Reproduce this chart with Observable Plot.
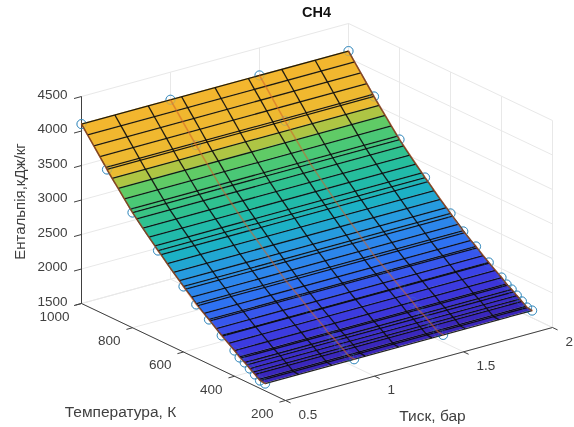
<!DOCTYPE html>
<html><head><meta charset="utf-8">
<style>html,body{margin:0;padding:0;background:#fff}svg{display:block;filter:blur(0.4px)}</style>
<script src="https://cdn.jsdelivr.net/npm/d3@7"></script>
<script src="https://cdn.jsdelivr.net/npm/@observablehq/plot@0.6"></script>
</head><body><script>
// measured points (circles + lines)
const measuredPressure = [0.5, 1, 1.5, 2];
const measuredTemp = [1000,900,800,700,600,550,500,450,400,380,360,340,320,300,280];
const measuredH = [4100,3618,3170,2795,2450,2277,2147,2003,1873,1807,1770,1717,1667,1614,1605];
// fitted surface rows and columns
const meshPressure = [0.5,0.6875,0.875,1.0625,1.25,1.4375,1.625,1.8125,2];
const meshTemp = [1000,976,952,928,904,900,880,856,832,808,800,784,760,736,712,700,688,664,640,616,600,592,568,550,544,520,500,496,472,450,448,424,400,380,376,360,352,340,328,320,304,300,280];
const meshH = [4100,3985,3870,3755,3640,3618,3525,3420,3310,3205,3170,3105,3015,2925,2840,2795,2755,2670,2585,2505,2450,2425,2350,2290,2270,2200,2147,2135,2065,2003,1998,1935,1873,1815,1805,1770,1750,1717,1688,1667,1625,1614,1605];
// axes
const pTicks = [0.5,1,1.5,2];
const tTicks = [1000,800,600,400,200];
const zTicks = [1500,2000,2500,3000,3500,4000,4500];
const P0=0.5,P1=2,T0=200,T1=1000,Z0=1500,Z1=4500;

// orthographic view of the 3-D box
const sx=(p,t,z)=>81+(p-P0)/(P1-P0)*267+(T1-t)/(T1-T0)*204;
const sy=(p,t,z)=>303-(p-P0)/(P1-P0)*73+(T1-t)/(T1-T0)*97-(z-Z0)/(Z1-Z0)*207;
const pt=(p,t,z)=>({x:sx(p,t,z),y:sy(p,t,z)});
const seg=(a,b)=>({x1:sx(...a),y1:sy(...a),x2:sx(...b),y2:sy(...b)});

const grid=[];
for(const z of zTicks){grid.push(seg([P0,T1,z],[P1,T1,z]),seg([P1,T1,z],[P1,T0,z]));}
for(const p of pTicks){grid.push(seg([p,T1,Z0],[p,T1,Z1]),seg([p,T1,Z0],[p,T0,Z0]));}
for(const t of tTicks){grid.push(seg([P1,t,Z0],[P1,t,Z1]),seg([P0,t,Z0],[P1,t,Z0]));}

const axes=[seg([P0,T1,Z0],[P0,T1,Z1]),seg([P0,T1,Z0],[P0,T0,Z0]),seg([P0,T0,Z0],[P1,T0,Z0])];
const ticks=[
 ...zTicks.map(z=>seg([P0,T1,z],[P0-0.042,T1,z])),
 ...tTicks.map(t=>seg([P0,t,Z0],[P0-0.034,t,Z0])),
 ...pTicks.map(p=>seg([p,T0,Z0],[p,T0-20,Z0]))
];

const cells=[];
meshTemp.slice(0,-1).forEach((t,i)=>{
 meshPressure.slice(0,-1).forEach((p,j)=>{
  const q=meshPressure[j+1],t2=meshTemp[i+1],z=meshH[i],z2=meshH[i+1],id=i+"-"+j;
  cells.push({id,v:z2,...seg([p,t,z],[p,t2,z2])});
  cells.push({id,v:z2,...seg([q,t,z],[q,t2,z2])});
 });
});
const mesh=[];
meshTemp.forEach((t,i)=>mesh.push(seg([P0,t,meshH[i]],[P1,t,meshH[i]])));
meshPressure.forEach(p=>meshTemp.slice(0,-1).forEach((t,i)=>mesh.push(seg([p,t,meshH[i]],[p,meshTemp[i+1],meshH[i+1]]))));

const points=measuredPressure.flatMap(p=>measuredTemp.map((t,i)=>({p,...pt(p,t,measuredH[i])})));

const zLab=zTicks.map(z=>({...pt(P0,T1,z),s:String(z)}));
const tLab=tTicks.map(t=>({...pt(P0,t,Z0),s:String(t)}));
const pLab=pTicks.map(p=>({...pt(p,T0,Z0),s:String(p)}));
const ink="#404040";
const font={fontSize:13.5,fill:ink,lineAnchor:"middle"};

const chart=Plot.plot({
 width:574,height:427,margin:0,
 style:{fontFamily:"'Liberation Sans',Arial,sans-serif",background:"#fff"},
 x:{domain:[0,574],range:[0,574],axis:null},
 y:{domain:[0,427],range:[0,427],axis:null},
 color:{type:"linear",
  domain:[1600,1800,2000,2200,2450,2650,2900,3150,3350,3430,3530,4100],
  range:["#3A25B8","#3C33D8","#3B4AEC","#2E72F2","#2A93E8","#1CB0C8","#22BDA0","#3EC67E","#68CC60","#B8C440","#EDBA30","#F4B52E"]},
 marks:[
  Plot.link(grid,{x1:"x1",y1:"y1",x2:"x2",y2:"y2",stroke:"#e8e8e8",strokeWidth:1}),
  Plot.link(axes,{x1:"x1",y1:"y1",x2:"x2",y2:"y2",stroke:"#404040",strokeWidth:1}),
  Plot.link(ticks,{x1:"x1",y1:"y1",x2:"x2",y2:"y2",stroke:"#404040",strokeWidth:1}),
  Plot.dot(points,{x:"x",y:"y",r:4.6,stroke:"#3f8fc0",strokeWidth:1,fill:"none"}),
  Plot.area(cells,{x1:"x1",y1:"y1",x2:"x2",y2:"y2",z:"id",fill:"v"}),
  Plot.link(mesh,{x1:"x1",y1:"y1",x2:"x2",y2:"y2",stroke:"#0a0a0a",strokeWidth:1.3,strokeOpacity:0.9}),
  Plot.line(points,{x:"x",y:"y",z:"p",stroke:"#d2622a",strokeWidth:1.6,strokeOpacity:0.55}),
  Plot.dot(points,{x:"x",y:"y",r:4.6,stroke:"#3f8fc0",strokeWidth:0.9,fill:"none",strokeOpacity:0.3}),
  Plot.text(zLab,{x:"x",y:"y",text:"s",textAnchor:"end",dx:-14,dy:-2,...font}),
  Plot.text(tLab,{x:"x",y:"y",text:"s",textAnchor:"end",dx:-12,dy:13,...font}),
  Plot.text(pLab,{x:"x",y:"y",text:"s",textAnchor:"start",dx:13,dy:14,...font}),
  Plot.text([pt(P1,T1,Z1)],{x:"x",y:"y",text:()=>"CH4",dx:-32,dy:-11,fontWeight:"bold",fontSize:14.5,fill:"#111"}),
  Plot.text([pt(P0,T1,3000)],{x:"x",y:"y",text:()=>"Ентальпія,кДж/кг",rotate:-90,dx:-61,dy:1.5,...font,fontSize:15}),
  Plot.text([pt(P0,600,Z0)],{x:"x",y:"y",text:()=>"Температура, К",dx:-63,dy:60,...font,fontSize:15.5}),
  Plot.text([pt(1.25,T0,Z0)],{x:"x",y:"y",text:()=>"Тиск, бар",dx:13.5,dy:52,...font,fontSize:15.5})
 ]
});
document.body.appendChild(chart);
</script></body></html>
